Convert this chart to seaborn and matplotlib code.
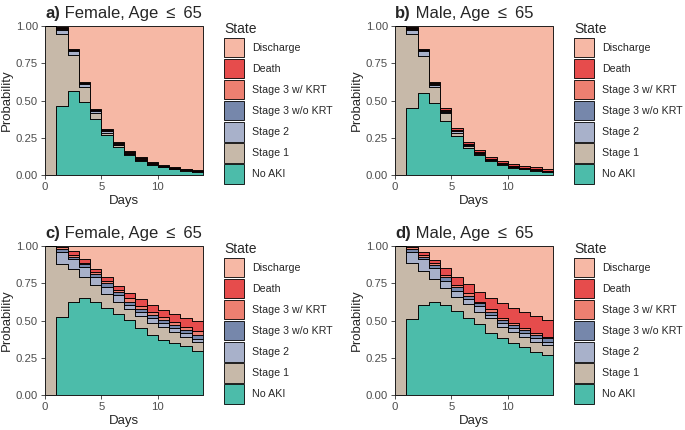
import numpy as np
import pandas as pd
import matplotlib
matplotlib.use("Agg")
import matplotlib.pyplot as plt
import seaborn as sns
from matplotlib.colors import to_rgba
from matplotlib.patches import Patch

# Days since admission (each value holds from day d to d+1)
days = list(range(14))

# States, listed top of stack first (legend order)
states = ["Discharge", "Death", "Stage 3 w/ KRT", "Stage 3 w/o KRT",
          "Stage 2", "Stage 1", "No AKI"]
state_colors = ["#F39B7F", "#DC0000", "#E64B35", "#3C5488",
                "#8491B4", "#B09C85", "#00A087"]

# a) Female
a_no_aki = [0, .464, .567, .493, .375, .270, .192, .136, .098, .069, .054, .040, .031, .022]
a_stage1 = [1.0, .482, .239, .101, .043, .015, .008, .005, .003, .003, .002, .002, .002, .002]
a_stage2 = [0, .029, .029, .017, .012, .010, .006, .005, .004, .003, .002, .002, .002, .002]
a_s3_no_krt = [0, .007, .004, .005, .005, .005, .005, .005, .004, .003, .003, .003, .002, .002]
a_s3_krt = [0, .004, .003, .004, .004, .004, .004, .004, .004, .003, .003, .003, .003, .003]
a_death = [0, .004, .003, .007, .007, .008, .008, .008, .007, .006, .005, .006, .005, .005]
a_discharge = [0, .010, .155, .373, .554, .688, .777, .837, .880, .913, .931, .944, .955, .964]

# b) Male
b_no_aki = [0, .449, .549, .482, .366, .263, .185, .136, .096, .069, .051, .040, .029, .022]
b_stage1 = [1.0, .497, .251, .107, .049, .023, .013, .007, .005, .004, .004, .003, .004, .003]
b_stage2 = [0, .030, .030, .016, .011, .008, .006, .004, .003, .003, .003, .003, .003, .003]
b_s3_no_krt = [0, .006, .006, .007, .005, .004, .004, .003, .003, .002, .002, .002, .002, .002]
b_s3_krt = [0, .004, .004, .005, .005, .004, .003, .003, .003, .002, .002, .002, .002, .002]
b_death = [0, .004, .008, .010, .013, .013, .014, .016, .015, .014, .012, .013, .014, .013]
b_discharge = [0, .010, .152, .373, .551, .685, .775, .831, .875, .906, .926, .937, .946, .955]

# c) Female
c_no_aki = [0, .522, .627, .650, .627, .587, .545, .503, .452, .403, .369, .353, .329, .295]
c_stage1 = [1.0, .357, .217, .145, .112, .091, .082, .073, .079, .083, .086, .073, .064, .060]
c_stage2 = [0, .083, .067, .062, .051, .049, .045, .029, .025, .030, .027, .022, .022, .025]
c_s3_no_krt = [0, .020, .018, .021, .022, .027, .022, .022, .022, .022, .022, .022, .022, .025]
c_s3_krt = [0, .008, .011, .011, .016, .014, .011, .023, .020, .022, .023, .023, .023, .025]
c_death = [0, .005, .024, .022, .016, .022, .029, .037, .045, .047, .044, .049, .056, .066]
c_discharge = [0, .005, .036, .089, .156, .210, .266, .313, .357, .393, .429, .458, .484, .504]

# d) Male
d_no_aki = [0, .509, .605, .627, .605, .565, .516, .475, .419, .382, .348, .321, .292, .270]
d_stage1 = [1.0, .375, .230, .150, .111, .091, .095, .085, .097, .078, .078, .072, .068, .065]
d_stage2 = [0, .078, .075, .073, .052, .044, .032, .038, .022, .022, .022, .022, .022, .025]
d_s3_no_krt = [0, .020, .015, .020, .022, .023, .022, .018, .022, .022, .022, .022, .022, .022]
d_s3_krt = [0, .008, .015, .015, .016, .016, .022, .011, .016, .012, .012, .011, .011, .011]
d_death = [0, .006, .022, .021, .044, .051, .056, .067, .074, .100, .101, .112, .115, .111]
d_discharge = [0, .004, .038, .094, .150, .210, .257, .306, .350, .384, .417, .440, .470, .496]

panel_tags = ["a)", "b)", "c)", "d)"]
panel_titles = ["Female, Age \u2009\u2264\u2009 65", "Male, Age \u2009\u2264\u2009 65",
                "Female, Age \u2009\u2264\u2009 65", "Male, Age \u2009\u2264\u2009 65"]

panel_series = [
    [a_discharge, a_death, a_s3_krt, a_s3_no_krt, a_stage2, a_stage1, a_no_aki],
    [b_discharge, b_death, b_s3_krt, b_s3_no_krt, b_stage2, b_stage1, b_no_aki],
    [c_discharge, c_death, c_s3_krt, c_s3_no_krt, c_stage2, c_stage1, c_no_aki],
    [d_discharge, d_death, d_s3_krt, d_s3_no_krt, d_stage2, d_stage1, d_no_aki],
]


def long_frame(series):
    rows = []
    for state, vals in zip(states, series):
        for day, p in zip(days, vals):
            rows.append({"day": day, "state": state, "prob": p})
    return pd.DataFrame(rows)


sns.set_theme(style="ticks")
plt.rcParams["font.family"] = ["Liberation Sans", "DejaVu Sans"]

W, H = 685, 430
fig = plt.figure(figsize=(W / 100, H / 100), dpi=100)
renderer = fig.canvas.get_renderer()

# panel positions in pixels (left, top)
corners = [(45, 26), (395, 26), (45, 246), (395, 246)]
pw, ph = 158, 149.3

handles = [Patch(facecolor=to_rgba(c, 0.7), edgecolor="black", linewidth=0.6)
           for c in state_colors]

for (left, top), tag, title, series in zip(corners, panel_tags, panel_titles, panel_series):
    ax = fig.add_axes([left / W, 1 - (top + ph) / H, pw / W, ph / H])
    df = long_frame(series)
    sns.histplot(data=df, x="day", weights="prob", hue="state", hue_order=states,
                 palette=state_colors, multiple="stack", element="step",
                 bins=14, binrange=(0, 14), alpha=0.7, edgecolor="black",
                 linewidth=0.6, legend=False, ax=ax)

    ax.set_xlim(0, 14)
    ax.set_ylim(0, 1)
    ax.set_xticks([0, 5, 10])
    ax.set_yticks([0, .25, .5, .75, 1])
    ax.set_yticklabels(["0.00", "0.25", "0.50", "0.75", "1.00"])
    ax.tick_params(labelsize=8.2, labelcolor="#4D4D4D", color="#333333",
                   length=3, width=0.6, pad=2)
    ax.set_xlabel("Days", fontsize=9.5, labelpad=2)
    ax.set_ylabel("Probability", fontsize=9.5, labelpad=2)
    for side in ["left", "bottom"]:
        ax.spines[side].set_linewidth(0.6)
        ax.spines[side].set_color("#222222")
    sns.despine(ax=ax)

    # panel title: bold tag followed by plain text
    t1 = fig.text(left / W, 1 - (top - 8) / H, tag, fontsize=12,
                  fontweight="bold", va="baseline")
    bb = t1.get_window_extent(renderer=renderer)
    fig.text(bb.x1 / W, 1 - (top - 8) / H, " " + title, fontsize=12, va="baseline")

    ax.legend(handles, states, loc="upper left",
              bbox_to_anchor=((left + 179) / W, 1 - (top - 4) / H),
              bbox_transform=fig.transFigure, frameon=False, title="State",
              alignment="left", fontsize=7.7, title_fontsize=10,
              handlelength=1.87, handleheight=2.43, labelspacing=0.15,
              handletextpad=0.75, borderpad=0, borderaxespad=0)

fig.savefig("out.png", dpi=100)
